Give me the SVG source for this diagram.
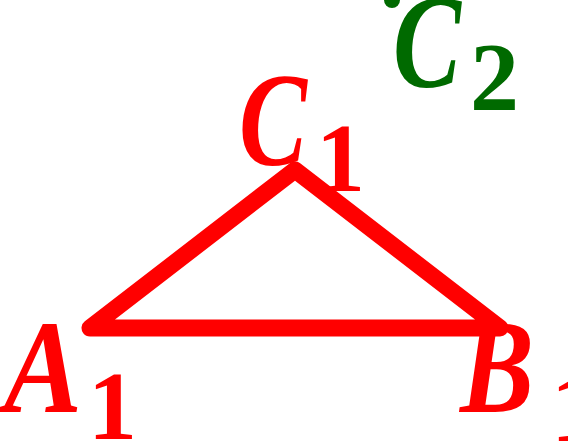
<svg xmlns="http://www.w3.org/2000/svg" width="568" height="445" viewBox="0 0 568 445">
<style>
.lbl{font-family:"Liberation Serif","Times New Roman",serif;font-weight:bold;font-style:italic}
.red{fill:#ff0000}
.grn{fill:#006a00}
.big{font-size:134px}
.sub{font-size:98px;font-style:normal}
</style>
<rect width="568" height="445" fill="#ffffff"/>
<g id="connectors">
<polygon points="90,328 500,328 295,170" fill="none" stroke="#ff0000" stroke-width="17" stroke-linejoin="round"/>
</g>
<g id="dot"><circle cx="392" cy="0" r="8" fill="#006a00"/></g>
<g id="C2"><text class="lbl grn big" x="393" y="87" textLength="68" lengthAdjust="spacingAndGlyphs">C</text><text class="lbl grn sub" x="470" y="110">2</text></g>
<g id="C1"><text class="lbl red big" x="239" y="165" textLength="68" lengthAdjust="spacingAndGlyphs">C</text><text class="lbl red sub" x="316" y="191">1</text></g>
<g id="A1"><text class="lbl red big" x="4" y="412" textLength="78" lengthAdjust="spacingAndGlyphs">A</text><text class="lbl red sub" x="88" y="439">1</text></g>
<g id="B1"><text class="lbl red big" x="460" y="412" textLength="74" lengthAdjust="spacingAndGlyphs">B</text><text class="lbl red sub" x="551" y="441">1</text></g>
</svg>
